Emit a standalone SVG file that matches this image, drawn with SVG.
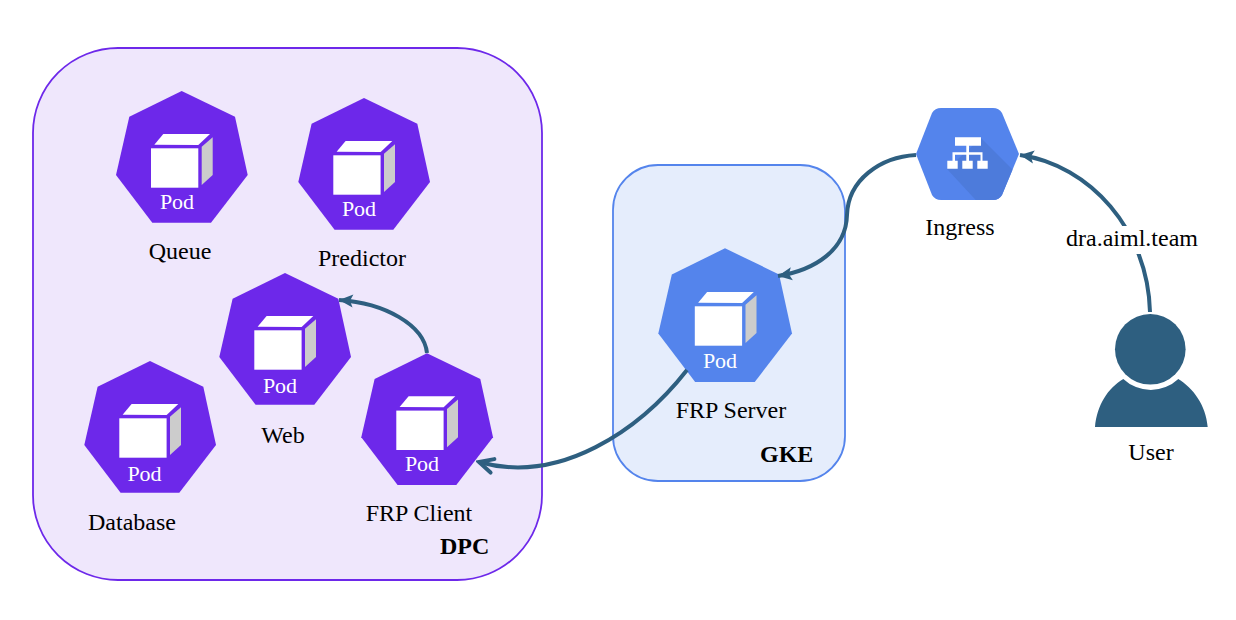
<svg xmlns="http://www.w3.org/2000/svg" width="1236" height="620" viewBox="0 0 1236 620">
<style>
text{font-family:"Liberation Serif","Times New Roman",serif;font-size:24px;fill:#000}
.b{font-weight:bold}
.pod{fill:#fff;font-size:22px;text-anchor:middle}
.m{text-anchor:middle}
.purple{fill:#6d28ea}
.blue{fill:#5484ec}
.c{fill:none;stroke:#2e5f80;stroke-width:4}
</style>
<defs>
<g id="cube">
<rect x="-30.7" y="57.3" width="47.3" height="39.4" fill="#fff"/>
<polygon points="-27.4,53.7 -18.4,43 28.3,43 16.6,54" fill="#fff"/>
<polygon points="20,55.7 31,46.3 31,84 20,94" fill="#ccc"/>
</g>
<polygon id="hept" points="0,0 53.3,25.7 66,84 29.3,131.7 -29.4,131.7 -65.7,84 -52.4,25.7"/>
<marker id="solid" markerUnits="userSpaceOnUse" markerWidth="20" markerHeight="20" refX="15" refY="10" orient="auto"><path d="M15 10 L1 3.5 L4 10 L1 16.5 Z" fill="#2e5f80"/></marker>
<marker id="open" markerUnits="userSpaceOnUse" markerWidth="24" markerHeight="24" refX="21" refY="12" orient="auto"><path d="M7 5 L21 12 L7 19" fill="none" stroke="#2e5f80" stroke-width="4" stroke-linecap="round"/></marker>
<clipPath id="hexclip"><path d="M941 108 H993 Q999 108 1002 113 L1019 154 L1002 195 Q999 200 993 200 H941 Q935 200 932 195 L916 154 L932 113 Q935 108 941 108 Z"/></clipPath>
</defs>
<g id="dpc"><rect x="33" y="48" width="509" height="532" rx="85" fill="#efe7fc" stroke="#6d28ea" stroke-width="1.8"/><text class="b" x="440" y="553.5">DPC</text></g>
<g id="gke"><rect x="613" y="165" width="232" height="316" rx="45" fill="#e5edfc" stroke="#5484ec" stroke-width="1.8"/><text class="b" x="760" y="462">GKE</text></g>
<g id="pod-queue"><use href="#hept" class="purple" x="181.7" y="91"/><use href="#cube" x="181.7" y="91"/><text class="pod" x="177" y="208.7">Pod</text><text class="m" x="180" y="258.7">Queue</text></g>
<g id="pod-predictor"><use href="#hept" class="purple" x="364" y="98"/><use href="#cube" x="364" y="98"/><text class="pod" x="359" y="215.7">Pod</text><text class="m" x="362" y="265.7">Predictor</text></g>
<g id="pod-web"><use href="#hept" class="purple" x="285" y="273"/><use href="#cube" x="285" y="273"/><text class="pod" x="280" y="392.5">Pod</text><text class="m" x="283" y="442.7">Web</text></g>
<g id="pod-database"><use href="#hept" class="purple" x="150" y="361"/><use href="#cube" x="150" y="361"/><text class="pod" x="144.5" y="480.5">Pod</text><text class="m" x="132" y="530">Database</text></g>
<g id="pod-frp-client"><use href="#hept" class="purple" x="427" y="353.3"/><use href="#cube" x="427" y="353.3"/><text class="pod" x="422" y="471">Pod</text><text class="m" x="419" y="520.7">FRP Client</text></g>
<g id="pod-frp-server"><use href="#hept" class="blue" transform="translate(725 248.3) scale(1.015)"/><use href="#cube" x="725.5" y="249"/><text class="pod" x="720" y="368">Pod</text><text class="m" x="731" y="418">FRP Server</text></g>
<g id="connectors">
<path class="c" d="M427 353 C424 325 385 303 339 300" marker-end="url(#solid)"/>
<path class="c" d="M687 370 C640 430 560 485 479 462" marker-end="url(#open)"/>
<path class="c" d="M916 155 C880 157 848 180 847 215 C846 250 815 270 778 276" marker-end="url(#solid)"/>
<path class="c" d="M1150 312 C1148 230 1090 165 1020 155" marker-end="url(#solid)"/>
</g>
<g id="ingress">
<path d="M941 108 H993 Q999 108 1002 113 L1019 154 L1002 195 Q999 200 993 200 H941 Q935 200 932 195 L916 154 L932 113 Q935 108 941 108 Z" fill="#5484ec"/>
<polygon clip-path="url(#hexclip)" points="981,138 1025,182 1000,210 985,210 947,169" fill="#4d7bdb"/>
<path d="M955 137.3 H981 V145.7 H969 V152.3 H982.5 V160.7 H987.7 V168.7 H977.3 V160.7 H980.5 V154.7 H969 V160.7 H972.7 V168.7 H962.3 V160.7 H966.3 V154.7 H955 V160.7 H957.7 V168.7 H947.3 V160.7 H952.5 V152.3 H966.3 V145.7 H955 Z" fill="#fff"/>
<text class="m" x="960" y="235">Ingress</text>
</g>
<g id="user">
<rect x="1064" y="226" width="136" height="28" fill="#fff"/>
<text class="m" x="1132" y="245.5">dra.aiml.team</text>
<circle cx="1150.3" cy="349.3" r="35.3" fill="#2e5f80"/>
<path d="M1095 427 C1097 405 1108 388 1123.3 379 A40 40 0 0 0 1178.3 379 C1193 388 1206 405 1207.7 427 Z" fill="#2e5f80"/>
<text class="m" x="1151" y="460">User</text>
</g>
</svg>
